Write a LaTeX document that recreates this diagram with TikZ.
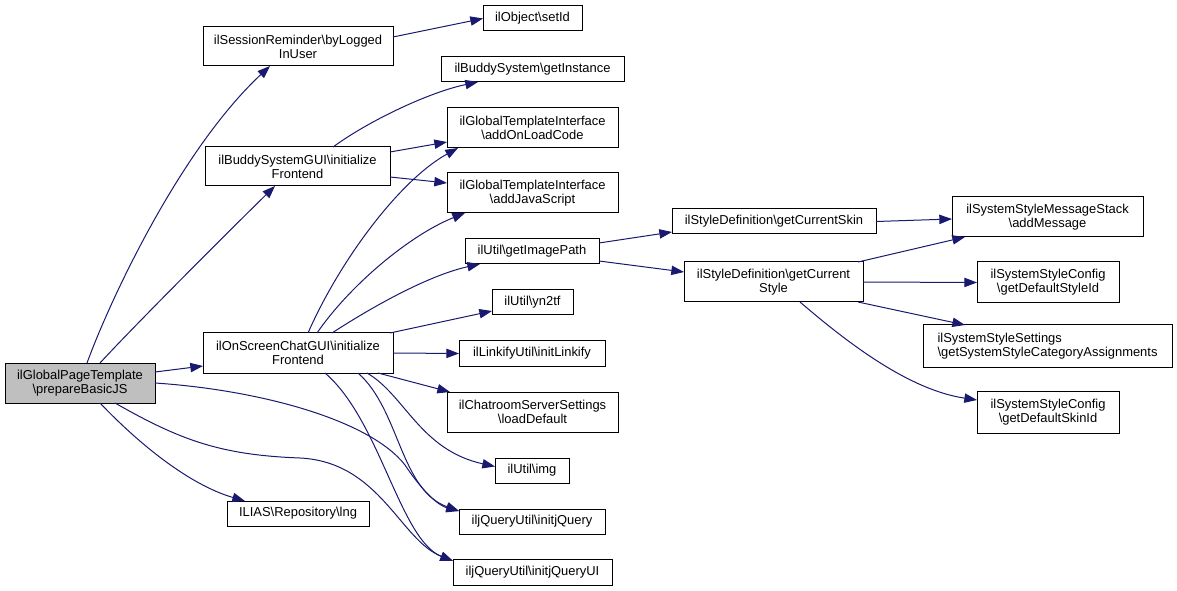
\documentclass[tikz,border=0pt]{standalone}
\usepackage{fontspec}
\setmainfont{Liberation Sans}
\usetikzlibrary{calc,arrows.meta}
\definecolor{edgeblue}{HTML}{191970}
\definecolor{mainfill}{HTML}{BFBFBF}
\begin{document}
\begin{tikzpicture}[x=0.75pt,y=-0.75pt,
 box/.style={draw=black, line width=0.75pt, inner sep=0pt, outer sep=0pt, align=center, font=\fontsize{9.7}{10.5}\selectfont, fill=white},
 conn/.style={draw=edgeblue, line width=0.75pt, -{Triangle[length=9.5pt,width=7pt]}}]
\useasboundingbox (0,0) rectangle (1177,591);
% nodes
\node[box, fill=mainfill, minimum width=112.5pt, minimum height=30pt] (main) at (80,383) {ilGlobalPageTemplate\\\textbackslash prepareBasicJS};
\node[box, minimum width=142.5pt, minimum height=29.25pt] (sess) at (298,46.5) {ilSessionReminder\textbackslash byLogged\\InUser};
\node[box, minimum width=74.25pt, minimum height=18.75pt] (setid) at (532.5,18.5) {ilObject\textbackslash setId};
\node[box, minimum width=137.25pt, minimum height=18.75pt] (bsgi) at (532.5,69.5) {ilBuddySystem\textbackslash getInstance};
\node[box, minimum width=128.25pt, minimum height=30pt] (addon) at (532.5,128) {ilGlobalTemplateInterface\\\textbackslash addOnLoadCode};
\node[box, minimum width=128.25pt, minimum height=30pt] (addjs) at (532.5,193) {ilGlobalTemplateInterface\\\textbackslash addJavaScript};
\node[box, minimum width=138.75pt, minimum height=29.25pt] (bsgui) at (297.5,166.5) {ilBuddySystemGUI\textbackslash initialize\\Frontend};
\node[box, minimum width=100.5pt, minimum height=18.75pt] (imgpath) at (532,251.5) {ilUtil\textbackslash getImagePath};
\node[box, minimum width=60.75pt, minimum height=18.75pt] (yn2tf) at (532.5,302.5) {ilUtil\textbackslash yn2tf};
\node[box, minimum width=142.5pt, minimum height=30pt] (osc) at (298,353) {ilOnScreenChatGUI\textbackslash initialize\\Frontend};
\node[box, minimum width=109.5pt, minimum height=18.75pt] (linkify) at (532,353.5) {ilLinkifyUtil\textbackslash initLinkify};
\node[box, minimum width=128.25pt, minimum height=30pt] (chatroom) at (532.5,412) {ilChatroomServerSettings\\\textbackslash loadDefault};
\node[box, minimum width=55.5pt, minimum height=18.75pt] (img) at (532,470.5) {ilUtil\textbackslash img};
\node[box, minimum width=109.5pt, minimum height=18.75pt] (initjq) at (532,521.5) {iljQueryUtil\textbackslash initjQuery};
\node[box, minimum width=119.25pt, minimum height=19.5pt] (initjqui) at (532.5,572) {iljQueryUtil\textbackslash initjQueryUI};
\node[box, minimum width=106.5pt, minimum height=18.75pt] (lng) at (298,513.5) {ILIAS\textbackslash Repository\textbackslash lng};
\node[box, minimum width=153pt, minimum height=18.75pt] (skin) at (774,221.5) {ilStyleDefinition\textbackslash getCurrentSkin};
\node[box, minimum width=134.25pt, minimum height=30pt] (style) at (773.5,282) {ilStyleDefinition\textbackslash getCurrent\\Style};
\node[box, minimum width=143.25pt, minimum height=30pt] (msg) at (1047.5,217) {ilSystemStyleMessageStack\\\textbackslash addMessage};
\node[box, minimum width=106.5pt, minimum height=30.75pt] (sdstyle) at (1048,282.5) {ilSystemStyleConfig\\\textbackslash getDefaultStyleId};
\node[box, align=left, minimum width=186.75pt, minimum height=31.5pt] (cat) at (1047.5,346) {ilSystemStyleSettings\\\textbackslash getSystemStyleCategoryAssignments};
\node[box, minimum width=106.5pt, minimum height=31.5pt] (skinid) at (1048,412) {ilSystemStyleConfig\\\textbackslash getDefaultSkinId};
% connectors from main
\draw[conn] ($(main.north west)+(82,0)$) .. controls (110,300) and (180,150) .. ($(sess.south west)+(67,0)$);
\draw[conn] ($(main.north west)+(95,0)$) .. controls (135,325) and (230,230) .. ($(bsgui.south west)+(70,0)$);
\draw[conn] ($(main.north east)+(0,9)$) -- ($(osc.south west)+(0,-7)$);
\draw[conn] (main.east) .. controls (260,390) and (370,420) .. (405,465) .. controls (425,495) and (440,506) .. ($(initjq.north west)+(0,2)$);
\draw[conn] ($(main.south west)+(110,0)$) .. controls (180,440) and (220,455) .. (300,458) .. controls (380,462) and (400,540) .. ($(initjqui.north west)+(0,2)$);
\draw[conn] ($(main.south west)+(95,0)$) .. controls (140,445) and (190,485) .. ($(lng.north west)+(18,0)$);
% sess
\draw[conn] ($(sess.north east)+(0,10)$) -- (setid.west);
% bsgui
\draw[conn] ($(bsgui.north west)+(128,0)$) .. controls (370,120) and (430,92) .. ($(bsgi.south west)+(37,0)$);
\draw[conn] ($(bsgui.north east)+(0,5)$) -- ($(addon.south west)+(0,-6)$);
\draw[conn] ($(bsgui.south east)+(0,-9)$) -- ($(addjs.north west)+(0,10)$);
% osc
\draw[conn] ($(osc.north west)+(105,0)$) .. controls (340,260) and (400,180) .. ($(addon.south west)+(11,0)$);
\draw[conn] ($(osc.north west)+(114,0)$) .. controls (350,285) and (410,235) .. ($(addjs.south west)+(18,0)$);
\draw[conn] ($(osc.north west)+(129,0)$) .. controls (375,305) and (430,275) .. ($(imgpath.south west)+(15,0)$);
\draw[conn] ($(osc.north east)+(-3,0)$) -- ($(yn2tf.south west)+(0,-4)$);
\draw[conn] (osc.east) -- (linkify.west);
\draw[conn] ($(osc.south west)+(175,0)$) -- ($(chatroom.north west)+(3,0)$);
\draw[conn] ($(osc.south west)+(164,0)$) .. controls (405,395) and (420,450) .. ($(img.west)+(0,-4)$);
\draw[conn] ($(osc.south west)+(155,0)$) .. controls (400,410) and (400,490) .. ($(initjq.north west)+(0,2)$);
\draw[conn] ($(osc.south west)+(122,0)$) .. controls (380,420) and (400,540) .. ($(initjqui.north west)+(0,2)$);
% imgpath
\draw[conn] ($(imgpath.north east)+(0,4)$) -- ($(skin.south west)+(0,-2)$);
\draw[conn] ($(imgpath.south east)+(0,-3)$) -- ($(style.north west)+(0,10)$);
% skin
\draw[conn] (skin.east) -- ($(msg.west)+(0,2)$);
% style
\draw[conn] ($(style.north east)+(-5,0)$) -- ($(msg.south west)+(13,0)$);
\draw[conn] (style.east) -- (sdstyle.west);
\draw[conn] ($(style.south east)+(-5,0)$) -- ($(cat.north west)+(42,0)$);
\draw[conn] ($(style.south west)+(116,0)$) .. controls (850,345) and (910,390) .. ($(skinid.north west)+(0,9)$);
\end{tikzpicture}
\end{document}
